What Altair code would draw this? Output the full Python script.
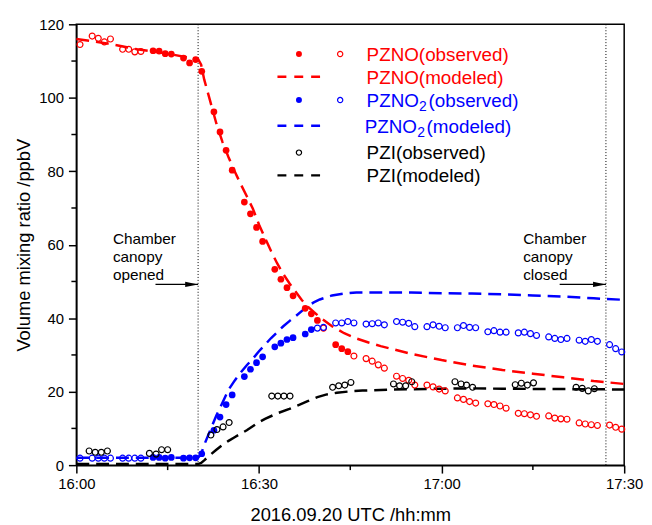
import altair as alt
import pandas as pd

RED, BLUE, BLACK = "#ff0000", "#0000ff", "#000000"
FONT = "Liberation Sans"

# ---------------- axes ----------------
x_major = [0, 30, 60, 90]                      # minutes after 16:00
x_labels = ["16:00", "16:30", "17:00", "17:30"]
x_minor = [15, 45, 75]
y_major = [0, 20, 40, 60, 80, 100, 120]
y_minor = [10, 30, 50, 70, 90, 110]

# ---------------- observed PZNO / PZNO2 (minutes after 16:00) ----------------
obs_t = [0.6,
         2.6, 3.6, 4.6, 5.6, 7.6, 8.6, 9.6, 10.6, 12.6, 13.6, 14.6, 15.6,
         17.6, 18.6, 19.6, 20.6, 22.6, 23.6, 24.6, 25.6, 27.6, 28.6, 29.6, 30.6,
         32.6, 33.6, 34.6, 35.6, 37.6, 38.6, 39.6, 40.6, 42.6, 43.6, 44.6, 45.6,
         47.6, 48.6, 49.6, 50.6, 52.6, 53.6, 54.6, 55.6, 57.6, 58.6, 59.6, 60.6,
         62.6, 63.6, 64.6, 65.6, 67.6, 68.6, 69.6, 70.6, 72.6, 73.6, 74.6, 75.6,
         77.6, 78.6, 79.6, 80.6, 82.6, 83.6, 84.6, 85.6, 87.6, 88.6, 89.6]
pzno_obs = [114.5,
            116.8, 116.2, 115.2, 116.0, 113.2, 113.2, 112.5, 112.6, 112.8, 112.7, 112.0, 111.9,
            110.8, 109.5, 110.4, 107.2, 96.2, 90.7, 85.7, 80.3, 71.6, 68.4, 64.7, 60.9,
            53.3, 50.6, 48.3, 46.1, 42.7, 41.2, 39.4, 37.3, 32.8, 31.7, 30.9, 29.7,
            29.0, 28.3, 27.3, 26.4, 24.2, 23.6, 23.1, 21.8, 21.8, 21.3, 20.7, 20.2,
            18.3, 17.9, 17.3, 16.9, 16.7, 16.5, 16.1, 15.5, 14.1, 14.0, 13.7, 13.3,
            13.4, 12.8, 12.6, 12.5, 11.5, 11.2, 11.0, 10.8, 10.9, 10.3, 9.8]
pzno_filled = [0,
               0, 0, 0, 0, 0, 0, 0, 0, 1, 1, 1, 1,
               1, 1, 1, 1, 1, 1, 1, 1, 1, 1, 1, 1,
               1, 1, 1, 1, 1, 1, 1, 0, 1, 1, 1, 0,
               0, 0, 0, 0, 0, 0, 0, 0, 0, 0, 0, 0,
               0, 0, 0, 0, 0, 0, 0, 0, 0, 0, 0, 0,
               0, 0, 0, 0, 0, 0, 0, 0, 0, 0, 0]
pzno2_obs = [1.9,
             1.9, 1.9, 1.9, 1.9, 1.9, 1.9, 1.9, 1.9, 2.1, 2.1, 1.9, 2.1,
             1.9, 2.0, 2.0, 3.1, 9.5, 13.1, 16.5, 19.1, 24.1, 26.1, 27.9, 29.5,
             32.2, 33.2, 34.2, 34.7, 35.7, 36.9, 37.3, 37.5, 38.7, 38.7, 39.1, 38.7,
             38.4, 38.5, 38.7, 38.2, 39.1, 38.9, 38.6, 37.7, 37.7, 38.2, 37.8, 37.4,
             37.4, 38.0, 37.5, 37.4, 36.3, 36.6, 36.2, 36.2, 36.0, 36.2, 35.8, 35.3,
             34.9, 34.5, 34.2, 34.5, 34.0, 33.7, 34.2, 33.7, 32.8, 31.7, 30.8]
pzno2_filled = [0,
                0, 0, 0, 0, 0, 0, 0, 0, 1, 1, 1, 1,
                1, 1, 1, 1, 1, 1, 1, 1, 1, 1, 1, 1,
                1, 1, 1, 1, 1, 1, 0, 0, 0, 0, 0, 0,
                0, 0, 0, 0, 0, 0, 0, 0, 0, 0, 0, 0,
                0, 0, 0, 0, 0, 0, 0, 0, 0, 0, 0, 0,
                0, 0, 0, 0, 0, 0, 0, 0, 0, 0, 0]

# ---------------- observed PZI ----------------
pzi_t = [2.1, 3.1, 4.1, 5.1, 12.0, 13.1, 14.0, 15.0,
         22.1, 23.1, 24.1, 25.1, 32.1, 33.1, 34.1, 35.1,
         42.1, 43.1, 44.1, 45.1, 52.1, 53.1, 54.1, 55.1,
         62.2, 63.2, 64.1, 65.1, 72.1, 73.1, 74.1, 75.1,
         82.1, 83.1, 84.1, 85.1]
pzi_obs = [3.85, 3.5, 3.5, 3.85, 3.2, 3.0, 4.2, 4.2,
           8.2, 9.7, 10.4, 11.6, 18.8, 18.8, 18.8, 18.8,
           21.2, 21.6, 21.8, 22.5, 22.1, 21.6, 21.6, 22.7,
           22.7, 22.1, 21.8, 21.2, 21.9, 22.3, 21.8, 22.4,
           21.2, 20.9, 20.2, 20.8]

# ---------------- modeled ----------------
no_mod_t = [0, 5, 10, 15, 20, 20.5, 21, 22, 23, 24, 25, 26, 27, 28, 29, 30, 31, 32, 33,
            34, 35, 36, 37, 38, 39, 40, 42, 44, 46, 48, 50, 55, 60, 65, 70, 75, 80, 85, 90]
no_mod = [116.0, 114.8, 113.2, 112.0, 110.5, 109.0, 105.0, 99.0, 93.0, 88.0, 83.8, 80.0,
          76.5, 73.2, 69.8, 65.5, 61.8, 58.2, 54.9, 52.0, 49.5, 47.3, 45.0, 43.2, 41.7,
          40.3, 37.8, 35.9, 34.5, 33.4, 32.4, 30.3, 28.6, 27.1, 25.9, 24.9, 23.9, 22.9, 22.1]
no2_mod_t = [0, 10, 20, 20.5, 21, 22, 23, 24, 25, 26, 27, 28, 29, 30, 31, 32, 33, 34, 35,
             36, 37.5, 38, 39, 40, 42, 44, 46, 50, 55, 60, 65, 70, 75, 80, 85, 90]
no2_mod = [2.0, 2.0, 2.0, 3.0, 5.5, 9.5, 13.5, 17.0, 20.5, 23.0, 25.2, 27.2, 29.0, 31.0,
           32.8, 34.6, 36.2, 37.8, 39.2, 40.5, 42.6, 43.3, 44.3, 45.1, 46.2, 46.7, 47.0,
           47.0, 47.0, 46.8, 46.7, 46.5, 46.2, 45.9, 45.4, 45.0]
zi_mod_t = [0, 10, 20, 20.5, 21, 22, 23, 24, 25, 26, 28, 30, 31, 33, 35, 36.6, 38, 39.6,
            41, 42.8, 45, 47, 52, 60, 65, 70, 80, 90]
zi_mod = [0.3, 0.3, 0.3, 0.6, 1.3, 2.8, 4.2, 5.5, 6.6, 7.6, 9.5, 11.7, 12.6, 14.1, 15.3,
          16.4, 17.4, 18.5, 19.2, 19.7, 20.1, 20.3, 20.6, 20.8, 20.9, 20.8, 20.7, 20.6]

# ---------------- annotations ----------------
open_t, close_t = 20, 87
note_v = 60.3
arrow_v = 49.2
open_text = ["Chamber", "canopy", "opened"]
close_text = ["Chamber", "canopy", "closed"]
open_text_t, close_text_t = 6.0, 73.4
open_arrow_from, close_arrow_from = 13.0, 79.4

W, H = 553, 445

expr = "''"
for v, s in reversed(list(zip(x_major, x_labels))):
    expr = f"datum.value == {v} ? '{s}' : ({expr})"

X = alt.X("t:Q", scale=alt.Scale(domain=[0, 90], nice=False, zero=False),
          axis=alt.Axis(values=x_major, labelExpr=expr, title="2016.09.20 UTC /hh:mm",
                        grid=False, tickSize=8, labelPadding=4, titlePadding=14,
                        labelFlush=False))
Y = alt.Y("v:Q", scale=alt.Scale(domain=[0, 120], nice=False),
          axis=alt.Axis(values=y_major, format="d", title="Volume mixing ratio /ppbV",
                        grid=False, tickSize=8, labelPadding=5, titlePadding=5))

obs = pd.DataFrame({"t": obs_t, "no": pzno_obs, "nof": pzno_filled,
                    "no2": pzno2_obs, "no2f": pzno2_filled})


def pts(df, col, flag, color):
    d_f = pd.DataFrame({"t": df["t"][df[flag] == 1], "v": df[col][df[flag] == 1]})
    d_o = pd.DataFrame({"t": df["t"][df[flag] == 0], "v": df[col][df[flag] == 0]})
    a = alt.Chart(d_f).mark_point(shape="circle", filled=True, size=46, color=color,
                                  opacity=1).encode(x=X, y=Y)
    b = alt.Chart(d_o).mark_point(shape="circle", filled=False, size=36, strokeWidth=1.2,
                                  color=color, opacity=1).encode(x=X, y=Y)
    return [a, b]


def model(ts, vs, color):
    return alt.Chart(pd.DataFrame({"t": ts, "v": vs})).mark_line(
        color=color, strokeWidth=2.5, strokeDash=[13, 7]).encode(x=X, y=Y)


one = pd.DataFrame({"a": [0]})


def ltext(txt, x, y, color, size=19):
    return alt.Chart(one).mark_text(text=txt, align="left", baseline="alphabetic",
                                    fontSize=size, color=color, font=FONT).encode(
        x=alt.value(x), y=alt.value(y))


def ldot(x, y, color, filled):
    if filled:
        m = alt.Chart(one).mark_point(shape="circle", filled=True, size=36, color=color, opacity=1)
    else:
        m = alt.Chart(one).mark_point(shape="circle", filled=False, size=28, strokeWidth=1.2,
                                      color=color, opacity=1)
    return m.encode(x=alt.value(x), y=alt.value(y))


def ldash(y, color):
    return alt.Chart(one).mark_rule(color=color, strokeWidth=2.5, strokeDash=[9, 8]).encode(
        x=alt.value(203), x2=alt.value(247), y=alt.value(y))


layers = []
# canopy lines
layers.append(alt.Chart(pd.DataFrame({"t": [open_t, close_t]})).mark_rule(
    color=BLACK, strokeWidth=1, strokeDash=[1, 2]).encode(x=X))
# minor ticks
layers.append(alt.Chart(pd.DataFrame({"t": x_minor})).mark_rule(
    color=BLACK, strokeWidth=1.5).encode(x=X, y=alt.value(H), y2=alt.value(H + 5)))
layers.append(alt.Chart(pd.DataFrame({"v": y_minor})).mark_rule(
    color=BLACK, strokeWidth=1.5).encode(y=Y, x=alt.value(0), x2=alt.value(-5)))
# modeled
layers += [model(no_mod_t, no_mod, RED), model(no2_mod_t, no2_mod, BLUE),
           model(zi_mod_t, zi_mod, BLACK)]
# observed
layers += pts(obs, "no", "nof", RED)
layers += pts(obs, "no2", "no2f", BLUE)
layers.append(alt.Chart(pd.DataFrame({"t": pzi_t, "v": pzi_obs})).mark_point(
    shape="circle", filled=False, size=36, strokeWidth=1.2, color=BLACK, opacity=1
).encode(x=X, y=Y))

# annotations
for tt, lines in [(open_text_t, open_text), (close_text_t, close_text)]:
    layers.append(alt.Chart(pd.DataFrame({"t": [tt], "v": [note_v]})).mark_text(
        text=lines, align="left", baseline="alphabetic", fontSize=15.5, lineHeight=18.6,
        font=FONT, color=BLACK).encode(x=X, y=Y))
for a0, a1 in [(open_arrow_from, open_t), (close_arrow_from, close_t)]:
    layers.append(alt.Chart(pd.DataFrame({"t": [a0], "t2": [a1], "v": [arrow_v]})).mark_rule(
        color=BLACK, strokeWidth=1.2).encode(x=X, x2="t2:Q", y=Y))
    layers.append(alt.Chart(pd.DataFrame({"t": [a1], "v": [arrow_v]})).mark_point(
        shape="M0,0L-2,-0.42L-2,0.42Z", filled=True, size=169, color=BLACK, opacity=1
    ).encode(x=X, y=Y))

# legend
rows_c = [30.0, 53.0, 76.5, 102.5, 129.5, 152.5]
rows_b = [c + 6.9 for c in rows_c]
layers += [ldot(224.7, rows_c[0], RED, True), ldot(266.3, rows_c[0], RED, False),
           ltext("PZNO(observed)", 293, rows_b[0], RED)]
layers += [ldash(rows_c[1], RED), ltext("PZNO(modeled)", 293, rows_b[1], RED)]
layers += [ldot(224.7, rows_c[2], BLUE, True), ldot(266.3, rows_c[2], BLUE, False),
           ltext("PZNO", 293, rows_b[2], BLUE), ltext("2", 346, rows_b[2] + 4.5, BLUE, 14),
           ltext("(observed)", 355.5, rows_b[2], BLUE)]
layers += [ldash(rows_c[3], BLUE), ltext("PZNO", 291, rows_b[3], BLUE),
           ltext("2", 344, rows_b[3] + 4.5, BLUE, 14),
           ltext("(modeled)", 353.5, rows_b[3], BLUE)]
layers += [ldot(224.7, rows_c[4], BLACK, False), ltext("PZI(observed)", 293, rows_b[4], BLACK)]
layers += [ldash(rows_c[5], BLACK), ltext("PZI(modeled)", 293, rows_b[5], BLACK)]

chart = alt.layer(*layers).properties(
    width=W, height=H,
    autosize=alt.AutoSizeParams(type="none"),
    padding={"left": 69, "top": 14, "right": 20, "bottom": 62},
).configure_view(stroke="black", strokeWidth=1.5).configure_axis(
    labelFont=FONT, titleFont=FONT, labelFontSize=15, titleFontSize=18.5,
    titleFontWeight="normal", labelColor="black", titleColor="black",
    domainColor="black", tickColor="black", domainWidth=1.5, tickWidth=1.5,
).configure_text(font=FONT)

chart.save("out.html", embed_options={"renderer": "svg", "actions": False})
